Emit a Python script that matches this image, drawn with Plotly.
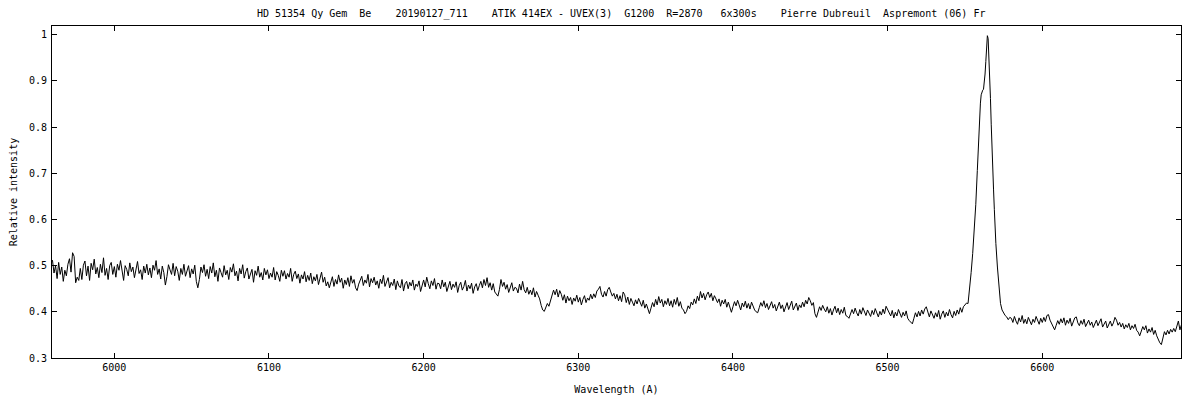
import plotly.graph_objects as go

# ---- Data (relative intensity, 1 A sampling) ----
flux_5960 = [0.512, 0.484, 0.500, 0.472, 0.507, 0.481, 0.497, 0.466, 0.490, 0.478,
             0.503, 0.515, 0.486, 0.528, 0.520, 0.463, 0.475, 0.468, 0.494, 0.470,
             0.501, 0.510, 0.478, 0.499, 0.468, 0.505, 0.491, 0.514, 0.482, 0.496,
             0.474, 0.503, 0.485, 0.517, 0.479, 0.494, 0.470, 0.500, 0.507, 0.481,
             0.498, 0.475, 0.503, 0.490, 0.511, 0.484, 0.468, 0.500, 0.492, 0.478]
flux_6010 = [0.506, 0.487, 0.497, 0.474, 0.494, 0.509, 0.483, 0.491, 0.470, 0.499,
             0.484, 0.503, 0.480, 0.495, 0.474, 0.501, 0.490, 0.511, 0.481, 0.493,
             0.471, 0.499, 0.485, 0.458, 0.476, 0.502, 0.491, 0.481, 0.505, 0.478,
             0.498, 0.488, 0.468, 0.494, 0.481, 0.503, 0.477, 0.490, 0.500, 0.474,
             0.493, 0.482, 0.501, 0.466, 0.452, 0.470, 0.497, 0.485, 0.502, 0.477]
flux_6060 = [0.492, 0.472, 0.498, 0.484, 0.506, 0.476, 0.490, 0.466, 0.495, 0.485,
             0.475, 0.500, 0.480, 0.490, 0.470, 0.496, 0.486, 0.504, 0.478, 0.488,
             0.467, 0.494, 0.482, 0.502, 0.473, 0.487, 0.495, 0.471, 0.483, 0.492,
             0.464, 0.489, 0.479, 0.499, 0.475, 0.485, 0.469, 0.494, 0.480, 0.491,
             0.472, 0.484, 0.475, 0.496, 0.469, 0.487, 0.479, 0.466, 0.490, 0.477]
flux_6110 = [0.489, 0.471, 0.483, 0.475, 0.494, 0.466, 0.481, 0.488, 0.472, 0.482,
             0.462, 0.480, 0.471, 0.487, 0.465, 0.479, 0.468, 0.484, 0.461, 0.476,
             0.467, 0.481, 0.459, 0.473, 0.486, 0.464, 0.475, 0.456, 0.465, 0.452,
             0.463, 0.476, 0.455, 0.470, 0.460, 0.480, 0.464, 0.473, 0.451, 0.469,
             0.459, 0.474, 0.455, 0.478, 0.462, 0.470, 0.452, 0.446, 0.460, 0.471]
flux_6160 = [0.477, 0.457, 0.469, 0.462, 0.481, 0.454, 0.472, 0.463, 0.475, 0.458,
             0.467, 0.451, 0.471, 0.461, 0.479, 0.455, 0.466, 0.474, 0.452, 0.464,
             0.457, 0.471, 0.448, 0.467, 0.456, 0.452, 0.470, 0.445, 0.461, 0.466,
             0.450, 0.464, 0.456, 0.469, 0.447, 0.460, 0.455, 0.467, 0.444, 0.459,
             0.469, 0.454, 0.475, 0.461, 0.450, 0.467, 0.457, 0.472, 0.449, 0.462]
flux_6210 = [0.461, 0.450, 0.469, 0.454, 0.464, 0.444, 0.458, 0.466, 0.448, 0.460,
             0.453, 0.465, 0.442, 0.457, 0.464, 0.447, 0.455, 0.468, 0.445, 0.458,
             0.450, 0.462, 0.440, 0.454, 0.461, 0.446, 0.457, 0.466, 0.452, 0.470,
             0.457, 0.474, 0.453, 0.463, 0.447, 0.461, 0.443, 0.437, 0.434, 0.448,
             0.470, 0.455, 0.464, 0.449, 0.459, 0.442, 0.454, 0.463, 0.445, 0.453]
flux_6260 = [0.451, 0.441, 0.460, 0.447, 0.466, 0.448, 0.441, 0.453, 0.438, 0.447,
             0.437, 0.452, 0.432, 0.444, 0.436, 0.428, 0.414, 0.404, 0.401, 0.409,
             0.418, 0.412, 0.424, 0.434, 0.447, 0.437, 0.449, 0.432, 0.446, 0.438,
             0.425, 0.437, 0.419, 0.434, 0.424, 0.431, 0.416, 0.430, 0.423, 0.436,
             0.421, 0.431, 0.415, 0.427, 0.435, 0.420, 0.430, 0.425, 0.438, 0.428]
flux_6310 = [0.439, 0.431, 0.445, 0.449, 0.455, 0.438, 0.432, 0.444, 0.434, 0.448,
             0.453, 0.443, 0.434, 0.440, 0.428, 0.438, 0.424, 0.435, 0.422, 0.443,
             0.437, 0.420, 0.432, 0.416, 0.429, 0.421, 0.413, 0.426, 0.417, 0.429,
             0.421, 0.412, 0.425, 0.408, 0.417, 0.405, 0.396, 0.408, 0.420, 0.411,
             0.427, 0.415, 0.433, 0.419, 0.427, 0.411, 0.424, 0.416, 0.429, 0.413]
flux_6360 = [0.424, 0.410, 0.427, 0.416, 0.431, 0.412, 0.422, 0.408, 0.404, 0.396,
             0.401, 0.413, 0.407, 0.421, 0.415, 0.428, 0.418, 0.434, 0.424, 0.444,
             0.430, 0.440, 0.426, 0.437, 0.443, 0.431, 0.440, 0.424, 0.435, 0.428,
             0.420, 0.428, 0.412, 0.425, 0.417, 0.427, 0.410, 0.421, 0.408, 0.399,
             0.411, 0.422, 0.413, 0.425, 0.415, 0.404, 0.419, 0.411, 0.423, 0.408]
flux_6410 = [0.418, 0.406, 0.421, 0.411, 0.404, 0.400, 0.398, 0.409, 0.420, 0.412,
             0.424, 0.409, 0.418, 0.405, 0.414, 0.422, 0.408, 0.416, 0.402, 0.413,
             0.421, 0.407, 0.415, 0.400, 0.411, 0.420, 0.405, 0.414, 0.423, 0.404,
             0.412, 0.419, 0.403, 0.415, 0.409, 0.421, 0.411, 0.425, 0.417, 0.431,
             0.424, 0.414, 0.420, 0.396, 0.388, 0.402, 0.411, 0.403, 0.414, 0.406]
flux_6460 = [0.400, 0.411, 0.397, 0.407, 0.393, 0.404, 0.412, 0.398, 0.408, 0.394,
             0.405, 0.397, 0.410, 0.392, 0.390, 0.386, 0.394, 0.405, 0.396, 0.408,
             0.398, 0.391, 0.405, 0.395, 0.409, 0.400, 0.392, 0.404, 0.397, 0.390,
             0.403, 0.394, 0.407, 0.397, 0.389, 0.401, 0.393, 0.406, 0.396, 0.412,
             0.404, 0.396, 0.391, 0.403, 0.387, 0.399, 0.391, 0.405, 0.395, 0.388]
flux_6510 = [0.399, 0.391, 0.402, 0.386, 0.381, 0.377, 0.374, 0.386, 0.398, 0.389,
             0.401, 0.391, 0.404, 0.395, 0.406, 0.411, 0.397, 0.389, 0.402, 0.393,
             0.386, 0.398, 0.389, 0.403, 0.384, 0.395, 0.402, 0.388, 0.399, 0.391,
             0.405, 0.394, 0.387, 0.401, 0.392, 0.404, 0.395, 0.409, 0.399, 0.411,
             0.414, 0.419]

# H-alpha emission line (finer sampling near the core)
halpha_wave = [6552, 6553, 6554, 6555, 6556, 6557, 6558, 6559, 6560, 6560.5,
               6561, 6561.5, 6562, 6562.5, 6563, 6563.5, 6564, 6564.5, 6565, 6565.5,
               6566, 6566.5, 6567, 6567.5, 6568, 6568.5, 6569, 6569.5, 6570, 6571,
               6572, 6573, 6574, 6575, 6576, 6577, 6578, 6579]
halpha_flux = [0.418, 0.447, 0.485, 0.526, 0.573, 0.632, 0.706, 0.790, 0.852, 0.870,
               0.878, 0.880, 0.882, 0.895, 0.915, 0.942, 0.972, 0.998, 0.992, 0.955,
               0.910, 0.862, 0.805, 0.744, 0.700, 0.664, 0.622, 0.577, 0.548, 0.497,
               0.450, 0.418, 0.404, 0.396, 0.392, 0.389, 0.383, 0.388]

flux_6580 = [0.386, 0.377, 0.390, 0.380, 0.373, 0.387, 0.378, 0.392, 0.375, 0.384,
             0.374, 0.388, 0.380, 0.372, 0.384, 0.377, 0.390, 0.381, 0.373, 0.386,
             0.377, 0.388, 0.379, 0.392, 0.394, 0.382, 0.374, 0.366, 0.361, 0.371,
             0.381, 0.373, 0.385, 0.376, 0.387, 0.371, 0.382, 0.375, 0.386, 0.369,
             0.379, 0.387, 0.389, 0.376, 0.370, 0.381, 0.373, 0.384, 0.368, 0.376,
             0.382, 0.371, 0.378, 0.366, 0.376, 0.382, 0.370, 0.377, 0.385, 0.367,
             0.374, 0.380, 0.365, 0.373, 0.380, 0.369, 0.376, 0.388, 0.382, 0.371,
             0.377, 0.367, 0.375, 0.363, 0.372, 0.366, 0.375, 0.361, 0.370, 0.364,
             0.373, 0.360, 0.356, 0.348, 0.359, 0.368, 0.361, 0.370, 0.354, 0.363,
             0.356, 0.366, 0.351, 0.360, 0.348, 0.340, 0.333, 0.329, 0.346, 0.357,
             0.350, 0.360, 0.352, 0.362, 0.356, 0.364, 0.357, 0.369, 0.380, 0.361,
             0.372]

segments = [(5960, flux_5960), (6010, flux_6010), (6060, flux_6060), (6110, flux_6110),
            (6160, flux_6160), (6210, flux_6210), (6260, flux_6260), (6310, flux_6310),
            (6360, flux_6360), (6410, flux_6410), (6460, flux_6460), (6510, flux_6510),
            (6580, flux_6580)]

x_ticks = [6000, 6100, 6200, 6300, 6400, 6500, 6600]
y_ticks = [0.3, 0.4, 0.5, 0.6, 0.7, 0.8, 0.9, 1.0]
y_tick_text = ["0.3", "0.4", "0.5", "0.6", "0.7", "0.8", "0.9", "1"]

title_text = ("HD 51354 Qy Gem  Be    20190127_711    ATIK 414EX - UVEX(3)  G1200  "
              "R=2870   6x300s    Pierre Dubreuil  Aspremont (06) Fr")

# ---- assemble spectrum ----
pts = []
for start, vals in segments:
    pts += [(start + i, v) for i, v in enumerate(vals)]
pts += list(zip(halpha_wave, halpha_flux))
pts.sort(key=lambda p: p[0])
wave = [p[0] for p in pts]
flux = [p[1] for p in pts]

FONT = "DejaVu Sans Mono"

fig = go.Figure()
fig.add_trace(go.Scatter(x=wave, y=flux, mode="lines",
                         line=dict(color="black", width=1), showlegend=False,
                         hoverinfo="skip"))

axis_common = dict(showgrid=False, zeroline=False, showline=True, linecolor="black",
                   linewidth=1, mirror="ticks", ticks="inside", ticklen=5,
                   tickcolor="black", tickwidth=1, automargin=False,
                   tickfont=dict(family=FONT, size=10, color="black"))

fig.update_xaxes(range=[5959.7, 6689.7], tickvals=x_ticks,
                 ticktext=[str(t) for t in x_ticks],
                 title=dict(text="Wavelength (A)", font=dict(family=FONT, size=10, color="black"),
                            standoff=13),
                 **axis_common)
fig.update_yaxes(range=[0.3, 1.019], tickvals=y_ticks, ticktext=y_tick_text,
                 ticklabelstandoff=2,
                 title=dict(text="Relative intensity", font=dict(family=FONT, size=10, color="black"),
                            standoff=10),
                 **axis_common)

# the page body adds an 8 px offset, so margins are trimmed accordingly
fig.update_layout(
    width=1200, height=400,
    margin=dict(l=44, r=27, t=18, b=50, autoexpand=False),
    paper_bgcolor="white", plot_bgcolor="white",
    title=dict(text=title_text, x=0.511, xanchor="center", y=0.9875, yanchor="middle",
               font=dict(family=FONT, size=10, color="black")),
)

fig.write_html("out.html")
